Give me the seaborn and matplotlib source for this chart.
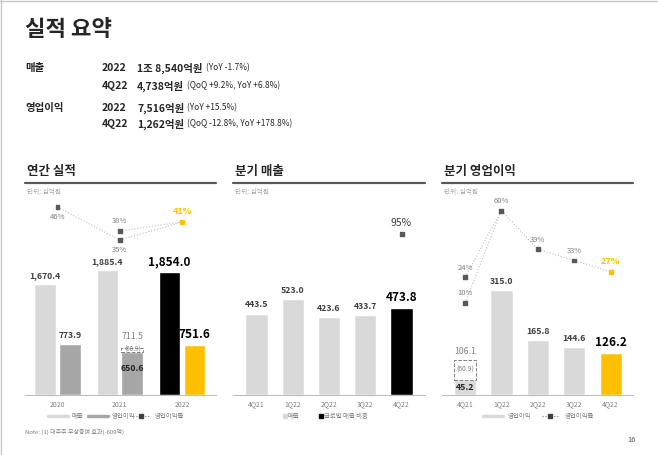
import numpy as np
import pandas as pd
import matplotlib
matplotlib.use("Agg")
import matplotlib.pyplot as plt
from matplotlib.lines import Line2D
import seaborn as sns

# --- Data ---
years = ["2020", "2021", "2022"]
annual_revenue = [1670.4, 1885.4, 1854.0]
annual_op = [773.9, 650.6, 751.6]
annual_op_oneoff = [np.nan, 60.9, np.nan]      # (1) one-off effect, shown as dashed box
annual_margin = [46, 35, 41]
annual_margin_adj = [np.nan, 38, 41]

quarters = ["4Q21", "1Q22", "2Q22", "3Q22", "4Q22"]
q_revenue = [443.5, 523.0, 423.6, 433.7, 473.8]
q_global_share = [np.nan, np.nan, np.nan, np.nan, 95]
q_op = [45.2, 315.0, 165.8, 144.6, 126.2]
q_op_oneoff = [60.9, np.nan, np.nan, np.nan, np.nan]
q_margin = [10, 60, 39, 33, 27]
q_margin_adj = [24, 60, np.nan, np.nan, np.nan]

summary_labels = ["매출", "", "영업이익", ""]
summary_periods = ["2022", "4Q22", "2022", "4Q22"]
summary_values = ["1조 8,540억원", "4,738억원", "7,516억원", "1,262억원"]
summary_notes = ["(YoY -1.7%)", "(QoQ +9.2%, YoY +6.8%)",
                 "(YoY +15.5%)", "(QoQ -12.8%, YoY +178.8%)"]

# --- Style ---
sns.set_theme(style="white")
plt.rcParams["font.family"] = ["Noto Sans CJK KR", "DejaVu Sans"]

LIGHT = "#d9d9d9"
MID = "#a6a6a6"
YELLOW = "#ffc000"
DARK = "#404040"
GRAY = "#808080"

W, H = 658, 455
fig = plt.figure(figsize=(W / 100, H / 100), dpi=100)
fig.patch.set_facecolor("white")


def fx(x):
    return x / W


def fy(y):
    return 1 - y / H


def panel_axes(left, right, top=190, bottom=395):
    ax = fig.add_axes([fx(left), fy(bottom), (right - left) / W, (bottom - top) / H])
    ax.set_facecolor("none")
    return ax


def style_axes(ax, labels):
    for s in ["top", "right", "left"]:
        ax.spines[s].set_visible(False)
    ax.spines["bottom"].set_color("#bfbfbf")
    ax.spines["bottom"].set_linewidth(0.8)
    ax.set_yticks([])
    ax.set_xlabel("")
    ax.set_ylabel("")
    ax.set_xticks(range(len(labels)))
    ax.set_xticklabels(labels)
    ax.tick_params(axis="x", length=0, pad=4, labelsize=5, labelcolor=GRAY)


def twin(ax, lo, hi):
    t = ax.twinx()
    t.set_ylim(lo, hi)
    t.set_yticks([])
    for s in t.spines.values():
        s.set_visible(False)
    t.set_ylabel("")
    return t


def value_label(ax, x, v, big=False, color=DARK, weight="semibold", size=6.3, dy=3):
    if big:
        size, weight, color = 8.5, "bold", "black"
    ax.annotate(f"{v:,.1f}", (x, v), xytext=(0, dy), textcoords="offset points",
                ha="center", va="bottom", fontsize=size, fontweight=weight, color=color)


def pct_label(ax, x, v, above=True, color=GRAY, size=5.5, weight="normal"):
    ax.annotate(f"{v:.0f}%", (x, v), xytext=(0, 4 if above else -4), textcoords="offset points",
                ha="center", va="bottom" if above else "top", fontsize=size,
                color=color, fontweight=weight)


def panel_header(x0, x1, title):
    fig.text(fx(x0 + 2), fy(172), title, fontsize=9, fontweight="bold", va="center", ha="left")
    fig.add_artist(Line2D([fx(x0), fx(x1)], [fy(183), fy(183)], color="#595959", lw=1.6))
    fig.text(fx(x0 + 2), fy(192), "단위: 십억원", fontsize=4.8, color="#a6a6a6", va="center")


def line_legend(x, y, color, lw=2.5):
    fig.add_artist(Line2D([fx(x), fx(x + 20)], [fy(y), fy(y)], color=color, lw=lw))


def margin_legend(x, y):
    fig.add_artist(Line2D([fx(x), fx(x + 16)], [fy(y), fy(y)], color="#7f7f7f", lw=0.8, ls=":"))
    fig.add_artist(Line2D([fx(x + 8)], [fy(y)], marker="s", ms=2.5, color="#404040", lw=0))


# --- Header text ---
fig.text(fx(25), fy(30), "실적 요약", fontsize=16, fontweight="bold", va="center")
row_y = [68, 86, 108, 124]
for lab, per, val, note, y in zip(summary_labels, summary_periods, summary_values, summary_notes, row_y):
    if lab:
        fig.text(fx(25), fy(y), lab, fontsize=7.5, fontweight="bold", va="center")
    fig.text(fx(102), fy(y), per, fontsize=7.5, fontweight="bold", va="center")
    t = fig.text(fx(137), fy(y), val, fontsize=7.5, fontweight="bold", va="center")
    fig.canvas.draw()
    bb = t.get_window_extent()
    fig.text(bb.x1 / W + fx(3), fy(y), note, fontsize=6, va="center")

# ================= Panel 1: annual =================
panel_header(25, 216, "연간 실적")
ax1 = panel_axes(25, 216)
df1 = pd.DataFrame({
    "year": years * 2,
    "value": annual_revenue + annual_op,
    "series": ["매출"] * 3 + ["영업이익"] * 3,
})
sns.barplot(data=df1, x="year", y="value", hue="series", palette=[LIGHT, MID],
            width=0.8, gap=0.14, dodge=True, saturation=1, legend=False, ax=ax1)
bars = ax1.patches
bars[2].set_facecolor("black")
bars[5].set_facecolor(YELLOW)
ax1.set_xlim(-0.522, 2.546)
ax1.set_ylim(0, 3092)
style_axes(ax1, years)

off = 0.8 / 4
for i, v in enumerate(annual_revenue):
    value_label(ax1, i - off, v, big=(i == 2))
for i, (v, extra) in enumerate(zip(annual_op, annual_op_oneoff)):
    if np.isnan(extra):
        value_label(ax1, i + off, v, big=(i == 2))
    else:
        bw = bars[3 + i].get_width()
        ax1.bar(i + off, extra, bottom=v, width=bw, fill=False, ls="--", lw=0.7, edgecolor="#7f7f7f")
        ax1.text(i + off, v + extra / 2, f"({extra:.1f})", ha="center", va="center", fontsize=4.5, color=GRAY)
        value_label(ax1, i + off, v + extra, color=GRAY, weight="normal", dy=5)
        ax1.annotate(f"{v:,.1f}", (i + off, v), xytext=(0, -12), textcoords="offset points",
                     ha="center", va="center", fontsize=6.3, fontweight="bold", color="#262626")

t1 = twin(ax1, -16.67, 51.67)
x1 = np.arange(len(years))
sns.lineplot(x=x1, y=annual_margin, ax=t1, color="#bfbfbf", lw=0.8, linestyle=":")
sns.lineplot(x=x1, y=annual_margin_adj, ax=t1, color="#bfbfbf", lw=0.8, linestyle=":")
t1.set_ylim(-16.67, 51.67)
t1.set_ylabel("")
t1.set_yticks([])
t1.scatter(x1, annual_margin, marker="s", s=8, color=["#595959", "#595959", YELLOW], zorder=5)
t1.scatter(x1[1:2], annual_margin_adj[1:2], marker="s", s=8, color="#595959", zorder=5)
pct_label(t1, 0, annual_margin[0], above=False)
pct_label(t1, 1, annual_margin[1], above=False)
pct_label(t1, 1, annual_margin_adj[1], above=True)
pct_label(t1, 2, annual_margin[2], above=True, color=YELLOW, size=6.5, weight="bold")

line_legend(48, 416, LIGHT)
fig.text(fx(72), fy(416), "매출", fontsize=4.6, color=GRAY, va="center")
line_legend(88, 416, MID)
fig.text(fx(112), fy(416), "영업이익", fontsize=4.6, color=GRAY, va="center")
margin_legend(133, 416)
fig.text(fx(155), fy(416), "영업이익률", fontsize=4.6, color=GRAY, va="center")

# ================= Panel 2: quarterly revenue =================
panel_header(233, 425, "분기 매출")
ax2 = panel_axes(233, 425)
df2 = pd.DataFrame({"quarter": quarters, "revenue": q_revenue})
sns.barplot(data=df2, x="quarter", y="revenue", hue="quarter", saturation=1,
            palette=[LIGHT] * 4 + ["black"], width=0.61, legend=False, ax=ax2)
ax2.set_xlim(-0.648, 4.648)
ax2.set_ylim(0, 1116.6)
style_axes(ax2, quarters)
for i, v in enumerate(q_revenue):
    value_label(ax2, i, v, big=(i == 4))

t2 = twin(ax2, 0, 120.96)
x2 = np.arange(len(quarters))
t2.scatter(x2, q_global_share, marker="s", s=8, color="#595959", zorder=5)
pct_label(t2, 4, q_global_share[4], above=True, color=DARK, size=7.5)

fig.add_artist(Line2D([fx(285)], [fy(416)], marker="s", ms=2.5, color=LIGHT, lw=0))
fig.text(fx(288), fy(416), "매출", fontsize=4.6, color=GRAY, va="center")
fig.add_artist(Line2D([fx(321)], [fy(416)], marker="s", ms=3, color="black", lw=0))
fig.text(fx(324), fy(416), "글로벌 매출 비중", fontsize=4.6, color=GRAY, va="center")

# ================= Panel 3: quarterly operating profit =================
panel_header(442, 633, "분기 영업이익")
ax3 = panel_axes(442, 633)
df3 = pd.DataFrame({"quarter": quarters, "op": q_op})
sns.barplot(data=df3, x="quarter", y="op", hue="quarter", saturation=1,
            palette=[LIGHT] * 4 + [YELLOW], width=0.61, legend=False, ax=ax3)
ax3.set_xlim(-0.632, 4.615)
ax3.set_ylim(0, 615.6)
style_axes(ax3, quarters)
for i, (v, extra) in enumerate(zip(q_op, q_op_oneoff)):
    if np.isnan(extra):
        value_label(ax3, i, v, big=(i == 4))
    else:
        ax3.bar(i, extra, bottom=v, width=0.61, fill=False, ls="--", lw=0.7, edgecolor="#7f7f7f")
        ax3.text(i, v + extra / 2, f"({extra:.1f})", ha="center", va="center", fontsize=5, color=GRAY)
        value_label(ax3, i, v + extra, color=GRAY, weight="normal")
        ax3.text(i, v / 2, f"{v:.1f}", ha="center", va="center", fontsize=6.3,
                 fontweight="bold", color="#262626")

t3 = twin(ax3, -39.7, 71.1)
sns.lineplot(x=x2, y=q_margin, ax=t3, color="#bfbfbf", lw=0.8, linestyle=":")
sns.lineplot(x=x2, y=q_margin_adj, ax=t3, color="#bfbfbf", lw=0.8, linestyle=":")
t3.set_ylim(-39.7, 71.1)
t3.set_ylabel("")
t3.set_yticks([])
t3.scatter(x2, q_margin, marker="s", s=8, color=["#595959"] * 4 + [YELLOW], zorder=5)
t3.scatter(x2[:1], q_margin_adj[:1], marker="s", s=8, color="#595959", zorder=5)
for i, v in enumerate(q_margin):
    if i == 4:
        pct_label(t3, i, v, color=YELLOW, size=6.5, weight="bold")
    else:
        pct_label(t3, i, v)
pct_label(t3, 0, q_margin_adj[0])

line_legend(483, 416, LIGHT)
fig.text(fx(508), fy(416), "영업이익", fontsize=4.6, color=GRAY, va="center")
margin_legend(542, 416)
fig.text(fx(565), fy(416), "영업이익률", fontsize=4.6, color=GRAY, va="center")

# --- Footer ---
fig.text(fx(25), fy(432), "Note: (1) 대주주 무상증여 효과(-609억)", fontsize=4.3, color="#7f7f7f", va="center")
fig.text(fx(632), fy(440), "16", fontsize=5.5, color="#595959", va="center", ha="center")
fig.add_artist(Line2D([0, 1], [fy(0.5), fy(0.5)], color="#c8c8c8", lw=1))
fig.add_artist(Line2D([fx(0.5), fx(0.5)], [0, 1], color="#c8c8c8", lw=1))

fig.savefig("out.png", dpi=100)
